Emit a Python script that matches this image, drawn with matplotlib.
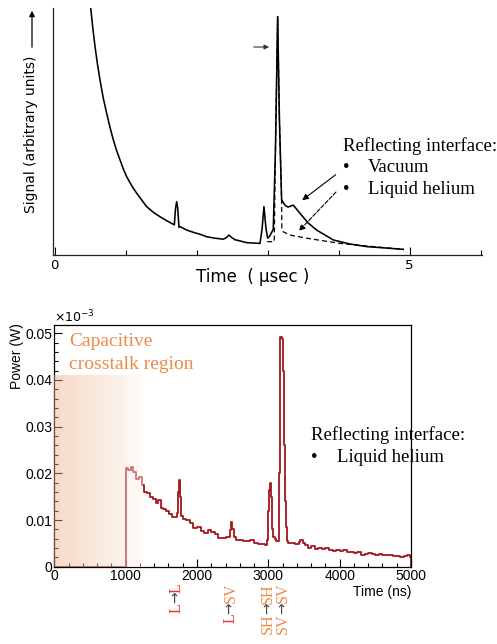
import numpy as np
import matplotlib
matplotlib.use("Agg")
import matplotlib.pyplot as plt
from matplotlib.ticker import MultipleLocator

# ---- top panel data (scanned curve, time in usec, signal in arbitrary units)
t_vac = [0.507, 0.535, 0.568, 0.601, 0.638, 0.685, 0.732, 0.779, 0.826, 0.873, 0.920,
         0.967, 1.014, 1.084, 1.155, 1.225, 1.295, 1.389, 1.483, 1.577, 1.685, 1.703,
         1.718, 1.733, 1.751, 1.765, 1.859, 1.952, 2.046, 2.141, 2.258, 2.375, 2.422,
         2.455, 2.492, 2.539, 2.610, 2.704, 2.892, 2.920, 2.948, 2.976, 3.000, 3.030,
         3.079, 3.110, 3.141, 3.166, 3.197, 3.244, 3.286, 3.361, 3.455, 3.570, 3.690,
         3.924, 4.150, 4.394, 4.910]
s_vac = [1.000, 0.924, 0.844, 0.776, 0.709, 0.634, 0.574, 0.517, 0.466, 0.422, 0.385,
         0.348, 0.317, 0.281, 0.250, 0.223, 0.196, 0.173, 0.155, 0.139, 0.122, 0.190,
         0.216, 0.190, 0.112, 0.115, 0.101, 0.092, 0.084, 0.074, 0.068, 0.064, 0.071,
         0.081, 0.071, 0.062, 0.057, 0.050, 0.047, 0.101, 0.196, 0.109, 0.068, 0.077,
         0.104, 0.425, 0.965, 0.547, 0.223, 0.202, 0.194, 0.202, 0.169, 0.130, 0.101,
         0.061, 0.045, 0.034, 0.023]
t_lhe = [2.994, 3.093, 3.110, 3.141, 3.166, 3.197, 3.200, 3.220, 3.314, 3.549, 4.018, 4.487, 4.910]
s_lhe = [0.054, 0.054, 0.425, 0.965, 0.547, 0.223, 0.109, 0.094, 0.081, 0.068, 0.047, 0.034, 0.023]

# ---- bottom panel data (time in ns, power in W)
t_ns = [0, 1000, 1040, 1080, 1110, 1150, 1190, 1230, 1260, 1300, 1340, 1380, 1420, 1450,
        1490, 1530, 1570, 1610, 1650, 1690, 1720, 1735, 1745, 1760, 1775, 1800, 1850,
        1900, 1950, 2000, 2050, 2100, 2150, 2200, 2250, 2300, 2350, 2400, 2440, 2465,
        2480, 2495, 2520, 2550, 2600, 2650, 2700, 2750, 2800, 2850, 2900, 2950, 2975,
        2990, 3005, 3020, 3035, 3050, 3070, 3090, 3110, 3130, 3145, 3160, 3170, 3185,
        3200, 3215, 3230, 3245, 3260, 3280, 3320, 3380, 3430, 3450, 3480, 3520, 3560,
        3600, 3650, 3700, 3750, 3800, 3850, 3900, 3950, 4000, 4050, 4100, 4150, 4200,
        4250, 4300, 4350, 4400, 4450, 4500, 4550, 4600, 4650, 4700, 4750, 4800, 4850,
        4900, 4950, 4990, 5000]
power = [0, 0.0212, 0.0207, 0.0214, 0.0203, 0.0188, 0.0192, 0.0175, 0.0160, 0.0158,
         0.0150, 0.0145, 0.0136, 0.0142, 0.0126, 0.0124, 0.0119, 0.0112, 0.0106, 0.0107,
         0.0114, 0.0160, 0.0186, 0.0150, 0.0108, 0.0103, 0.0100, 0.0093, 0.0083, 0.0084,
         0.0076, 0.0072, 0.0078, 0.0075, 0.0069, 0.0062, 0.0061, 0.0063, 0.0064, 0.0078,
         0.0096, 0.0080, 0.0063, 0.0058, 0.0057, 0.0055, 0.0055, 0.0057, 0.0051, 0.0048,
         0.0049, 0.0047, 0.0058, 0.0120, 0.0165, 0.0180, 0.0150, 0.0080, 0.0064, 0.0059,
         0.0055, 0.0054, 0.0200, 0.0380, 0.0493, 0.0488, 0.0420, 0.0260, 0.0140, 0.0085,
         0.0056, 0.0051, 0.0050, 0.0048, 0.0053, 0.0058, 0.0050, 0.0046, 0.0041, 0.0044,
         0.0037, 0.0040, 0.0038, 0.0039, 0.0036, 0.0034, 0.0035, 0.0033, 0.0035, 0.0031,
         0.0032, 0.0030, 0.0031, 0.0026, 0.0028, 0.0029, 0.0027, 0.0025, 0.0027, 0.0026,
         0.0024, 0.0025, 0.0023, 0.0023, 0.0021, 0.0022, 0.0025, 0.0021, 0]

y_ticks = [0, 0.01, 0.02, 0.03, 0.04, 0.05]
y_ticklabels = ["0", "0.01", "0.02", "0.03", "0.04", "0.05"]
x_ticks = [0, 1000, 2000, 3000, 4000, 5000]

# mode labels under the bottom axis: position (ns) and coloured pieces, bottom to top
RED = "#ee3030"
ORANGE = "#ef8a4a"
GREY = "#444444"
mode_pos = [1716, 2477, 3000, 3210]
mode_parts = [[("L", RED), ("\u2192", GREY), ("L", RED)],
              [("L", RED), ("\u2192", GREY), ("SV", ORANGE)],
              [("SH", ORANGE), ("\u2192", GREY), ("SH", ORANGE)],
              [("SV", ORANGE), ("\u2192", GREY), ("SV", ORANGE)]]

crosstalk_end = 1243   # ns, right end of shaded region
crosstalk_top = 0.041

W, H = 497, 644
fig = plt.figure(figsize=(W / 100, H / 100), dpi=100)
SERIF = ["Liberation Serif", "DejaVu Serif"]

def fx(px):
    return px / W

def fy(py):
    return 1 - py / H

# ================= top panel =================
ax1 = fig.add_axes([fx(53), fy(255), fx(482 - 53), (255 - 8) / H])
ax1.plot(t_vac, s_vac, color="k", lw=1.15)
ax1.plot(t_lhe, s_lhe, color="k", lw=0.9, ls=(0, (4, 2.5)))
ax1.set_xlim(-0.024, 6.02)
ax1.set_ylim(0, 1)
for sp in ["top", "right"]:
    ax1.spines[sp].set_visible(False)
for sp in ["left", "bottom"]:
    ax1.spines[sp].set_color("#222222")
    ax1.spines[sp].set_linewidth(0.9)
ax1.set_yticks([])
ax1.set_xticks([0, 5])
ax1.set_xticklabels(["0", "5"])
ax1.xaxis.set_minor_locator(MultipleLocator(1))
ax1.tick_params(axis="x", which="major", direction="in", length=6, width=0.8, pad=3,
                labelsize=9.5)
ax1.tick_params(axis="x", which="minor", direction="in", length=3.5, width=0.8)

# small arrow pointing at the main spike
ax1.annotate("", xy=(3.06, 0.842), xytext=(2.765, 0.842),
             arrowprops=dict(arrowstyle="-|>", lw=0.8, color="#333333", mutation_scale=7))
# arrows from the legend text to the curves
ax1.annotate("", xy=(3.455, 0.215), xytext=(3.99, 0.332),
             arrowprops=dict(arrowstyle="-|>", lw=0.8, color="k", mutation_scale=9))
ax1.annotate("", xy=(3.413, 0.089), xytext=(3.99, 0.263),
             arrowprops=dict(arrowstyle="-|>", lw=0.8, color="k", ls="--", mutation_scale=9))

fig.text(fx(253), fy(277), "Time  ( \u03bcsec )", ha="center", va="center", fontsize=12)
fig.text(fx(31), fy(213), "Signal (arbitrary units)", rotation=90, ha="center",
         va="bottom", fontsize=10)
fig.add_artist(matplotlib.patches.FancyArrowPatch(
    (fx(32), fy(50)), (fx(32), fy(8)), transform=fig.transFigure,
    arrowstyle="-|>", mutation_scale=8, lw=0.9, color="k"))

fig.text(fx(343), fy(150.7), "Reflecting interface:", family=SERIF, fontsize=13.5,
         va="baseline")
fig.text(fx(343), fy(171.7), "\u2022", family=SERIF, fontsize=13.5, va="baseline")
fig.text(fx(368), fy(171.7), "Vacuum", family=SERIF, fontsize=13.5, va="baseline")
fig.text(fx(343), fy(194), "\u2022", family=SERIF, fontsize=13.5, va="baseline")
fig.text(fx(368), fy(194), "Liquid helium", family=SERIF, fontsize=13.5, va="baseline")

# ================= bottom panel =================
SANS = "Liberation Sans"
ax2 = fig.add_axes([fx(54.3), fy(566.7), fx(411 - 54.3), (566.7 - 325) / H])
ax2.plot(t_ns, power, drawstyle="steps-post", color="#a3161c", lw=1.3, zorder=2)

# shaded crosstalk region (peach fading to white, drawn over the curve)
n = 256
frac = np.linspace(0, 1, n)
c0 = np.array([238, 172, 130]) / 255
c1 = np.array([255, 246, 240]) / 255
rgba = np.ones((1, n, 4))
rgba[0, :, :3] = c0 + (c1 - c0) * frac[:, None]
rgba[0, :, 3] = 0.45
ax2.imshow(rgba, extent=(0, crosstalk_end, 0, crosstalk_top), aspect="auto",
           interpolation="bilinear", zorder=3)

ax2.set_xlim(0, 5000)
ax2.set_ylim(0, 0.05178)
ax2.set_xticks(x_ticks)
ax2.set_xticklabels([str(v) for v in x_ticks], family=SANS)
ax2.set_yticks(y_ticks)
ax2.set_yticklabels(y_ticklabels, family=SANS)
ax2.xaxis.set_minor_locator(MultipleLocator(200))
ax2.yaxis.set_minor_locator(MultipleLocator(0.002))
ax2.tick_params(which="major", direction="in", length=5.8, width=0.8, labelsize=10, pad=2)
ax2.tick_params(which="minor", direction="in", length=2.9, width=0.8)
ax2.tick_params(axis="y", pad=1.5)
for sp in ax2.spines.values():
    sp.set_linewidth(0.9)

fig.text(fx(54), fy(322), r"$\times$10$^{-3}$", fontsize=9, va="baseline")
fig.text(fx(17), fy(323), "Power (W)", rotation=90, ha="center", va="top",
         family=SANS, fontsize=10)
fig.text(fx(411), fy(591.7), "Time (ns)", ha="right", va="center", family=SANS,
         fontsize=10)

fig.text(fx(69), fy(346), "Capacitive", color=ORANGE, family=SERIF, fontsize=14,
         va="baseline")
fig.text(fx(69), fy(369), "crosstalk region", color=ORANGE, family=SERIF, fontsize=14,
         va="baseline")

fig.text(fx(311), fy(440), "Reflecting interface:", family=SERIF, fontsize=13.5,
         va="baseline")
fig.text(fx(311), fy(461.7), "\u2022", family=SERIF, fontsize=13.5, va="baseline")
fig.text(fx(337), fy(461.7), "Liquid helium", family=SERIF, fontsize=13.5, va="baseline")

# rotated mode labels, stacked from the top down; x stays on the data position
for pos, parts in zip(mode_pos, mode_parts):
    prev = None
    for txt, col in reversed(parts):
        is_arrow = txt == "\u2192"
        kw = dict(rotation=90, ha="center", va="top", color=col,
                  family=["DejaVu Sans"] if is_arrow else SERIF,
                  fontsize=10 if is_arrow else 11.5)
        if prev is None:
            prev = ax2.annotate(txt, xy=(pos, 0), xycoords=ax2.get_xaxis_transform(),
                                xytext=(0, -11.7), textcoords="offset points", **kw)
        else:
            prev = ax2.annotate(txt, xy=(pos, 0), xycoords=(ax2.transData, prev),
                                xytext=(-0.8 if is_arrow else 0, 1 if is_arrow else 0),
                                textcoords="offset points", **kw)

fig.savefig("out.png", dpi=100)
